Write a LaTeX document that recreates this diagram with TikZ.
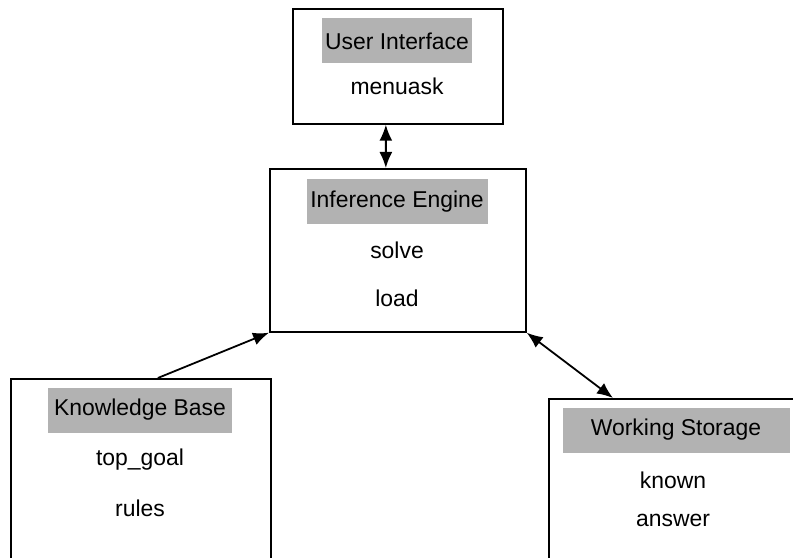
\documentclass[tikz,border=0pt]{standalone}
\usepackage{fontspec}
\setmainfont{Liberation Sans}
\usetikzlibrary{arrows.meta}

\begin{document}
\begin{tikzpicture}[x=1bp,y=-1bp,
  box/.style={draw,line width=1.7pt,anchor=north west,inner sep=0pt},
  title/.style={fill=black!30,inner sep=0pt,minimum height=45bp,minimum width=#1,
    font=\fontsize{23}{27}\selectfont},
  item/.style={font=\fontsize{23}{27}\selectfont},
  link/.style={line width=1.8pt,-{Latex[length=16bp,width=13bp]}},
  both/.style={line width=1.8pt,{Latex[length=16bp,width=13bp]}-{Latex[length=16bp,width=13bp]}}]
\useasboundingbox (0,0) rectangle (793,558);
\clip (0,0) rectangle (793,558);
% the four boxes
\node[box,minimum width=210bp,minimum height=115bp] (ui) at (292,8) {};
\node[box,minimum width=256bp,minimum height=163bp] (ie) at (269,168) {};
\node[box,minimum width=260bp,minimum height=220bp] (kb) at (10,378) {};
\node[box,minimum width=280bp,minimum height=200bp] (ws) at (548,398) {};
% User Interface
\node[title=150bp] (uiTitle) at (397,41) {User Interface};
\node[item] (uiAsk) at (397,86) {menuask};
% Inference Engine
\node[title=181bp] (ieTitle) at (397,202) {Inference Engine};
\node[item] (ieSolve) at (397,250) {solve};
\node[item] (ieLoad) at (397,298) {load};
% Knowledge Base
\node[title=183bp] (kbTitle) at (140,410) {Knowledge Base};
\node[item] (kbGoal) at (140,460) {top\_goal};
\node[item] (kbRules) at (140,508) {rules};
% Working Storage
\node[title=227bp] (wsTitle) at (676,430) {Working Storage};
\node[item] (wsKnown) at (673,480) {known};
\node[item] (wsAnswer) at (673,520) {answer};
% connectors
\draw[both] ([xshift=-12bp]ui.south) -- ([xshift=-12bp]ie.north);
\draw[link] ([xshift=17bp]kb.north) -- (ie.south west);
\draw[both] (ie.south east) -- ([xshift=65bp]ws.north west);
\end{tikzpicture}
\end{document}
